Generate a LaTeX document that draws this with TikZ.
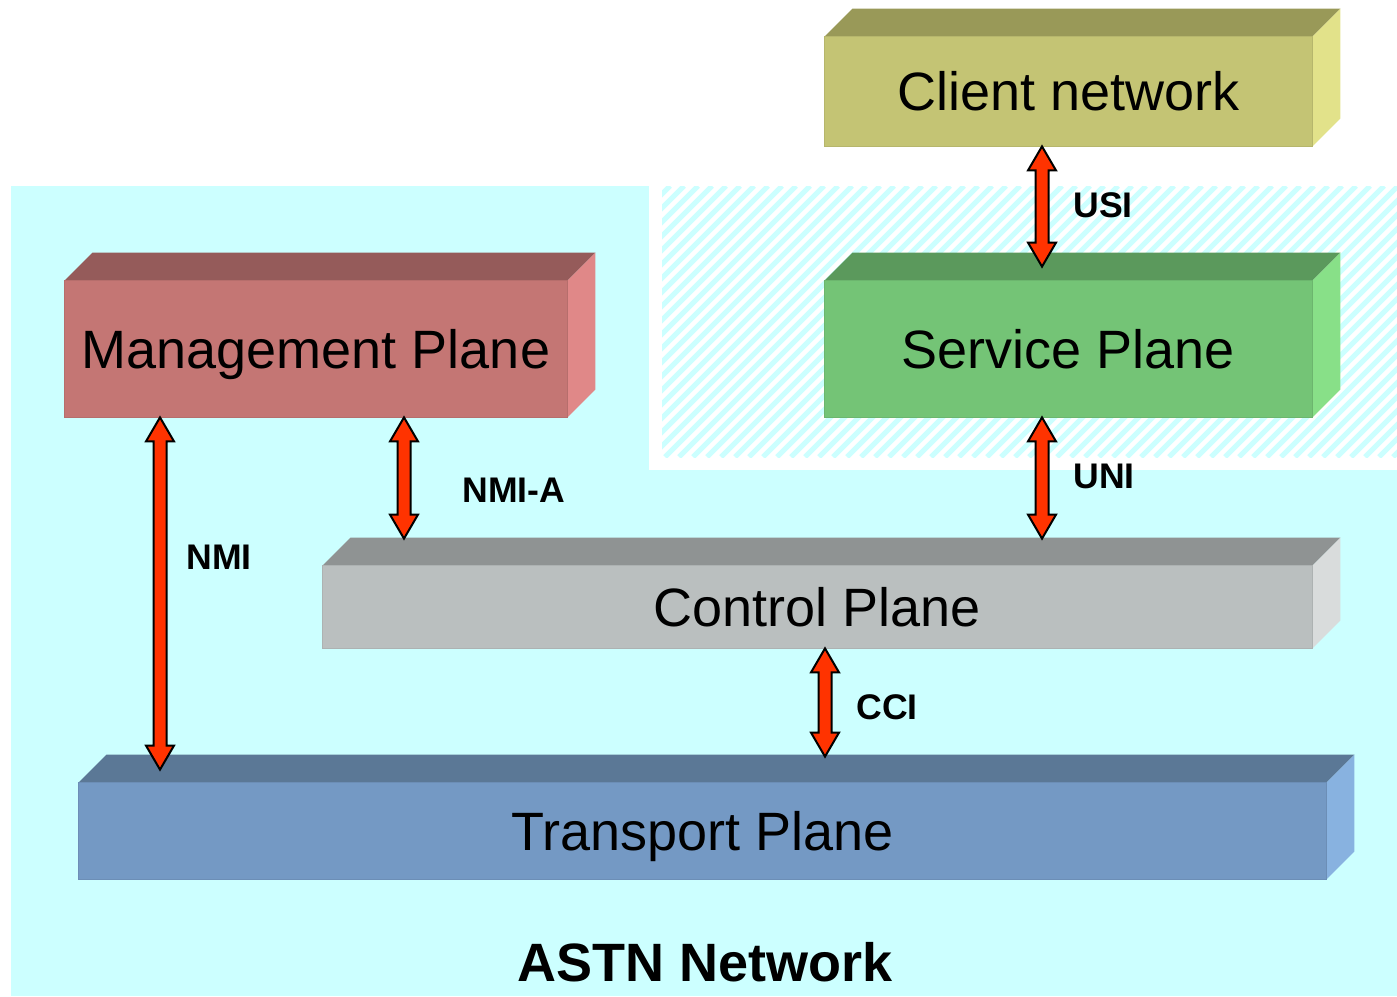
\documentclass[tikz,border=0pt]{standalone}
\usepackage{fontspec}
\setmainfont{Liberation Sans}
\usetikzlibrary{calc}

\definecolor{netbg}{HTML}{CCFFFF}
\definecolor{linkred}{HTML}{FF3300}
% front / top / side colours of each slab
\definecolor{cliF}{HTML}{C4C474}\definecolor{cliT}{HTML}{999958}\definecolor{cliS}{HTML}{E2E28A}
\definecolor{srvF}{HTML}{74C476}\definecolor{srvT}{HTML}{5B995C}\definecolor{srvS}{HTML}{88E088}
\definecolor{mgtF}{HTML}{C47674}\definecolor{mgtT}{HTML}{955B5A}\definecolor{mgtS}{HTML}{E08888}
\definecolor{ctlF}{HTML}{BABFBF}\definecolor{ctlT}{HTML}{8F9393}\definecolor{ctlS}{HTML}{D9DCDC}
\definecolor{trpF}{HTML}{7499C4}\definecolor{trpT}{HTML}{5B7896}\definecolor{trpS}{HTML}{88B2E0}

\tikzset{
  slab/.style={rectangle, inner sep=0pt, font=\fontsize{27}{30}\selectfont,
    text height=19.3pt, text depth=0pt},
  iflabel/.style={anchor=west, inner sep=0pt, font=\bfseries\fontsize{17.8}{20}\selectfont,
    text height=12.7pt, text depth=0pt},
  linkarrow/.style={fill=linkred, draw=black, line width=1pt, line join=miter},
  hatch/.style={netbg, line width=2.6pt},
}

% slab: name, centre x, centre y, width, height, colour prefix, text
\newcommand{\slab}[7]{%
  \node[slab, fill=#6F, minimum width=#4*0.5pt, minimum height=#5*0.5pt] (#1) at (#2,#3) {#7};
  \fill[#6T] (#1.north west) -- ++(28,-28) -- ([shift={(28,-28)}]#1.north east) -- (#1.north east) -- cycle;
  \fill[#6S] (#1.north east) -- ++(28,-28) -- ([shift={(28,-28)}]#1.south east) -- (#1.south east) -- cycle;
  \draw[#6F!93!black, line width=0.5pt] (#1.north west) rectangle (#1.south east);
}

% double-headed link between a top point and a bottom point
\newcommand{\linkarrow}[2]{%
  \filldraw[linkarrow] let \p1=(#1), \p2=(#2) in
    (\x1,\y1) -- (\x1+7pt,\y1-12pt) -- (\x1+3.25pt,\y1-12pt) -- (\x1+3.25pt,\y2+12pt)
    -- (\x1+7pt,\y2+12pt) -- (\x1,\y2) -- (\x1-7pt,\y2+12pt) -- (\x1-3.25pt,\y2+12pt)
    -- (\x1-3.25pt,\y1-12pt) -- (\x1-7pt,\y1-12pt) -- cycle;
}

\begin{document}
\begin{tikzpicture}[x=0.5pt, y=-0.5pt]
  \useasboundingbox (0,0) rectangle (1397,996);

  % ASTN network area with the cut-out service domain
  \fill[netbg] (11,186) rectangle (1397,996);
  \fill[white] (649,186) rectangle (1397,470);
  \begin{scope}
    \clip (662,186) rectangle (1397,457);
    \foreach \s in {385,399,...,1400}
      \draw[hatch] (\s,457) -- ++(271,-271);
  \end{scope}

  % planes
  \slab{client}{1068.5}{91.5}{487}{109}{cli}{Client network}
  \slab{service}{1068.5}{349}{487}{136}{srv}{Service Plane}
  \slab{mgmt}{316}{349}{502}{136}{mgt}{Management Plane}
  \slab{control}{817.5}{607}{989}{82}{ctl}{Control Plane}
  \slab{transport}{702.5}{831}{1247}{96}{trp}{Transport Plane}

  % columns of the links
  \coordinate (usiX) at (1042,0);
  \coordinate (nmiaX) at (404,0);
  \coordinate (nmiX) at (160,0);
  \coordinate (cciX) at (825,0);

  % interfaces
  \linkarrow{usiX |- client.south}{[yshift=7pt]usiX |- service.north}
  \linkarrow{usiX |- service.south}{[yshift=13.5pt]usiX |- control.north}
  \linkarrow{nmiaX |- mgmt.south}{[yshift=13.5pt]nmiaX |- control.north}
  \linkarrow{nmiX |- mgmt.south}{[yshift=6.5pt]nmiX |- transport.north}
  \linkarrow{cciX |- control.south}{[yshift=13pt]cciX |- transport.north}

  \node[iflabel] (usi) at (1073,205) {USI};
  \node[iflabel] (uni) at (1073,476) {UNI};
  \node[iflabel] (nmia) at (462,490) {NMI-A};
  \node[iflabel] (nmi) at (186,557) {NMI};
  \node[iflabel] (cci) at (856,707) {CCI};

  \node[inner sep=0pt, font=\bfseries\fontsize{27}{30}\selectfont, text height=19.3pt, text depth=0pt]
    (astn) at (705.5,962) {ASTN Network};
\end{tikzpicture}
\end{document}
